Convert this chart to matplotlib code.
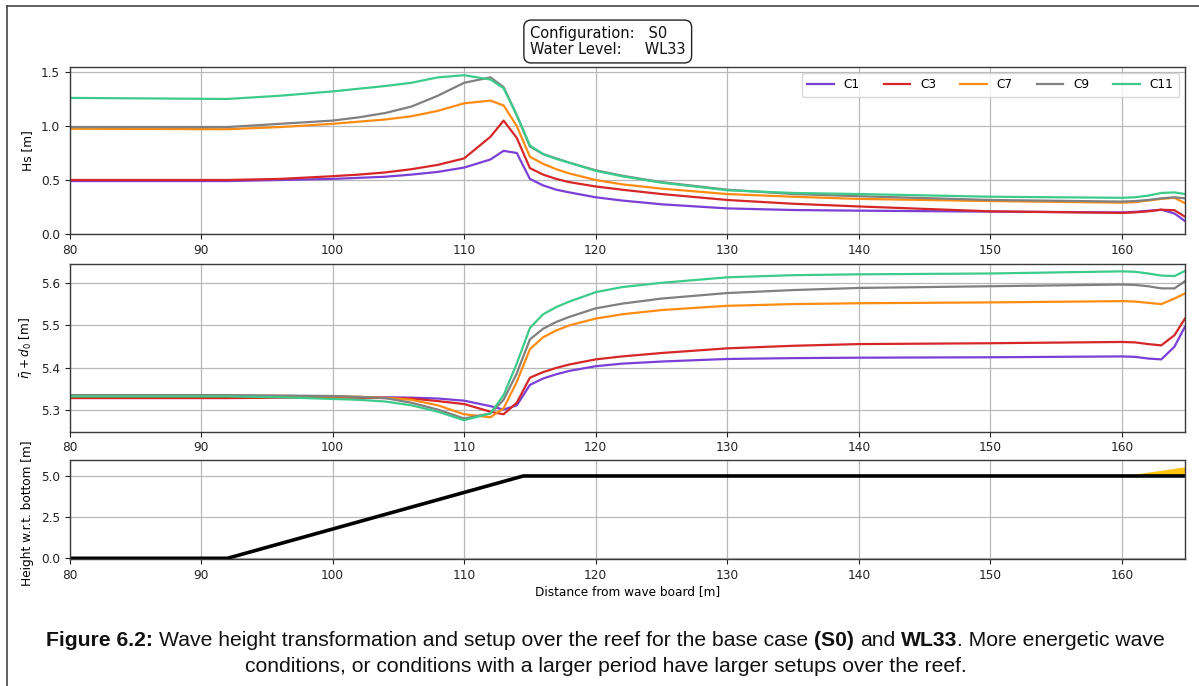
import matplotlib
matplotlib.use("Agg")
import matplotlib.pyplot as plt
from matplotlib.lines import Line2D

# ---------------- data ----------------
x_pos = [80, 92, 96, 100, 102, 104, 106, 108, 110, 112, 113, 114, 115, 116, 117, 118,
         120, 122, 125, 130, 135, 140, 150, 160, 161, 162, 163, 164, 164.8]

series_names = ["C1", "C3", "C7", "C9", "C11"]
series_colors = ["#7b3fd6", "#d62728", "#ff8c12", "#808080", "#3ccb8a"]

hs_c1 = [0.49, 0.49, 0.50, 0.51, 0.52, 0.53, 0.55, 0.575, 0.615, 0.69, 0.77, 0.75, 0.51, 0.45, 0.41, 0.385,
         0.34, 0.31, 0.275, 0.237, 0.222, 0.216, 0.207, 0.20, 0.205, 0.215, 0.225, 0.19, 0.12]
hs_c3 = [0.50, 0.50, 0.51, 0.535, 0.55, 0.57, 0.60, 0.64, 0.70, 0.90, 1.05, 0.89, 0.61, 0.55, 0.51, 0.48,
         0.44, 0.41, 0.37, 0.315, 0.28, 0.255, 0.21, 0.195, 0.20, 0.21, 0.225, 0.22, 0.16]
hs_c7 = [0.975, 0.97, 0.99, 1.02, 1.04, 1.06, 1.09, 1.14, 1.21, 1.235, 1.19, 1.00, 0.715, 0.65, 0.60, 0.56,
         0.50, 0.46, 0.42, 0.37, 0.345, 0.325, 0.305, 0.29, 0.295, 0.31, 0.325, 0.335, 0.285]
hs_c9 = [0.99, 0.99, 1.02, 1.05, 1.08, 1.12, 1.18, 1.28, 1.40, 1.45, 1.36, 1.10, 0.81, 0.74, 0.70, 0.66,
         0.59, 0.54, 0.48, 0.41, 0.37, 0.35, 0.315, 0.30, 0.305, 0.315, 0.33, 0.34, 0.33]
hs_c11 = [1.26, 1.25, 1.28, 1.32, 1.345, 1.37, 1.40, 1.45, 1.47, 1.43, 1.35, 1.10, 0.82, 0.74, 0.695, 0.66,
          0.585, 0.535, 0.475, 0.405, 0.38, 0.37, 0.345, 0.335, 0.34, 0.355, 0.38, 0.385, 0.37]

su_c1 = [5.333, 5.333, 5.333, 5.332, 5.331, 5.331, 5.330, 5.328, 5.323, 5.310, 5.302, 5.312, 5.360, 5.375,
         5.385, 5.393, 5.404, 5.410, 5.415, 5.421, 5.423, 5.424, 5.425, 5.427, 5.426, 5.422, 5.420, 5.450, 5.497]
su_c3 = [5.329, 5.329, 5.330, 5.330, 5.330, 5.329, 5.328, 5.322, 5.315, 5.297, 5.291, 5.318, 5.377, 5.390,
         5.400, 5.408, 5.420, 5.427, 5.435, 5.446, 5.452, 5.456, 5.458, 5.461, 5.460, 5.456, 5.453, 5.477, 5.516]
su_c7 = [5.334, 5.334, 5.334, 5.333, 5.332, 5.330, 5.325, 5.312, 5.291, 5.284, 5.305, 5.367, 5.444, 5.472,
         5.488, 5.500, 5.516, 5.526, 5.536, 5.546, 5.550, 5.552, 5.554, 5.557, 5.556, 5.553, 5.550, 5.563, 5.575]
su_c9 = [5.336, 5.336, 5.335, 5.334, 5.332, 5.329, 5.318, 5.302, 5.281, 5.293, 5.325, 5.387, 5.467, 5.492,
         5.508, 5.520, 5.540, 5.551, 5.563, 5.576, 5.583, 5.588, 5.592, 5.596, 5.595, 5.592, 5.587, 5.587, 5.604]
su_c11 = [5.333, 5.333, 5.331, 5.327, 5.325, 5.321, 5.312, 5.297, 5.277, 5.293, 5.336, 5.410, 5.494, 5.526,
          5.543, 5.556, 5.578, 5.590, 5.600, 5.613, 5.618, 5.620, 5.622, 5.627, 5.626, 5.622, 5.617, 5.616, 5.628]

hs_series = [hs_c1, hs_c3, hs_c7, hs_c9, hs_c11]
setup_series = [su_c1, su_c3, su_c7, su_c9, su_c11]

bed_x = [80, 92, 114.5, 164.8]
bed_z = [0.0, 0.0, 5.0, 5.0]
beach_x = [160, 164.8]
beach_top = [5.0, 5.56]
beach_base = [5.0, 5.0]

xticks = [80, 90, 100, 110, 120, 130, 140, 150, 160]
hs_ticks = [0.0, 0.5, 1.0, 1.5]
setup_ticks = [5.3, 5.4, 5.5, 5.6]
bed_ticks = [0.0, 2.5, 5.0]

config_text = "Configuration:   S0\nWater Level:     WL33"
caption_line1 = [("Figure 6.2:", "bold"), (" Wave height transformation and setup over the reef for the base case ", "normal"),
                 ("(S0)", "bold"), (" and ", "normal"), ("WL33", "bold"), (". More energetic wave", "normal")]
caption_line2 = [("conditions, or conditions with a larger period have larger setups over the reef.", "normal")]

# ---------------- figure ----------------
W, H = 1199, 686
fig = plt.figure(figsize=(W / 100, H / 100), dpi=100)
fig.patch.set_facecolor("white")

TICK = 8.7
spine_c = "#3a3a3a"


def px_axes(left, top, right, bottom):
    return fig.add_axes([left / W, 1 - bottom / H, (right - left) / W, (bottom - top) / H])


ax1 = px_axes(69.5, 67, 1185, 234)
ax2 = px_axes(69.5, 263.7, 1185, 431.7)
ax3 = px_axes(69.5, 460, 1185, 559.3)

for ax in (ax1, ax2, ax3):
    ax.set_xlim(80, 164.8)
    ax.set_xticks(xticks)
    ax.grid(True, color="#b8b8b8", linewidth=0.9)
    ax.set_axisbelow(True)
    ax.tick_params(labelsize=TICK, colors="#222222", length=3.5, width=0.8)
    for s in ax.spines.values():
        s.set_color(spine_c)
        s.set_linewidth(1.0)

for name, col, hs in zip(series_names, series_colors, hs_series):
    ax1.plot(x_pos, hs, color=col, lw=1.6, label=name)
ax1.set_ylim(0, 1.546)
ax1.set_yticks(hs_ticks)
ax1.set_ylabel("Hs [m]", fontsize=TICK)
leg = ax1.legend(loc="upper right", ncol=5, fontsize=TICK, frameon=True,
                 handlelength=2.2, columnspacing=2.0, borderaxespad=0.5, borderpad=0.45)
leg.get_frame().set_edgecolor("#d0d0d0")

for name, col, su in zip(series_names, series_colors, setup_series):
    ax2.plot(x_pos, su, color=col, lw=1.6)
ax2.set_ylim(5.25, 5.645)
ax2.set_yticks(setup_ticks)
ax2.set_ylabel(r"$\bar{\eta} + d_0$ [m]", fontsize=TICK)

ax3.fill_between(beach_x, beach_base, beach_top, color="#ffc20e", lw=0)
ax3.plot(bed_x, bed_z, color="black", lw=2.6)
ax3.set_ylim(-0.06, 5.97)
ax3.set_yticks(bed_ticks)
ax3.set_ylabel("Height w.r.t. bottom [m]", fontsize=TICK)
ax3.set_xlabel("Distance from wave board [m]", fontsize=TICK, labelpad=2)

for ax in (ax1, ax2, ax3):
    ax.yaxis.set_label_coords(-0.032, 0.5)
ax3.yaxis.set_label_coords(-0.032, 0.46)

# config box
fig.text(530 / W, 1 - 41.5 / H, config_text, fontsize=10.5, ha="left", va="center",
         linespacing=1.05, color="#111111",
         bbox=dict(boxstyle="round,pad=0.42,rounding_size=0.5", facecolor="white", edgecolor="#222222", lw=1.0))

# border lines of the page
fig.add_artist(Line2D([7 / W, 7 / W], [0, 1 - 5.5 / H], transform=fig.transFigure, color="#444444", lw=1.2))
fig.add_artist(Line2D([7 / W, 1], [1 - 5.5 / H, 1 - 5.5 / H], transform=fig.transFigure, color="#444444", lw=1.2))

# caption with mixed weights
renderer = fig.canvas.get_renderer()
CAP = 15.2
CAP_FAMILY = "Liberation Sans"


def measure(s, weight):
    t = fig.text(0, 0, s, fontsize=CAP, fontweight=weight, family=CAP_FAMILY)
    w = t.get_window_extent(renderer).width
    t.remove()
    return w


def space_w(weight):
    return measure("a a", weight) - measure("aa", weight)


def rich_line(parts, ycenter_px):
    items = []
    total = 0
    for s, weight in parts:
        lead = len(s) - len(s.lstrip(" "))
        trail = len(s) - len(s.rstrip(" "))
        core = s.strip(" ")
        sw = space_w(weight)
        wcore = measure(core, weight)
        items.append((core, weight, total + lead * sw))
        total += lead * sw + wcore + trail * sw
    x0 = (W / 2 + 6) - total / 2
    for core, weight, off in items:
        fig.text((x0 + off) / W, 1 - ycenter_px / H, core, fontsize=CAP, fontweight=weight,
                 family=CAP_FAMILY, ha="left", va="center", color="#111111")


rich_line(caption_line1, 640)
rich_line(caption_line2, 666)

fig.savefig("out.png", dpi=100)
